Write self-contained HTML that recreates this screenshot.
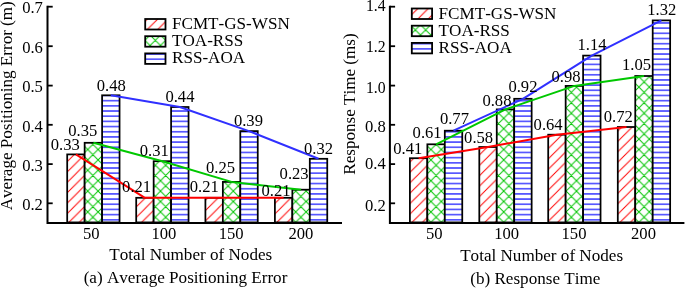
<!DOCTYPE html>
<html><head><meta charset="utf-8"><title>Charts</title>
<style>html,body{margin:0;padding:0;background:#fff}svg{display:block}text{font-family:"Liberation Serif", serif;fill:#000;font-kerning:none}</style>
</head><body>
<svg width="685" height="289" viewBox="0 0 685 289">
<defs>
<pattern id="pr" patternUnits="userSpaceOnUse" width="10.4" height="10.4">
<path d="M-1,11.4 L11.4,-1 M-1,1 L1,-1 M9.4,11.4 L11.4,9.4" stroke="#ff0000" stroke-width="1" fill="none"/>
</pattern>
<pattern id="pg" patternUnits="userSpaceOnUse" width="10.4" height="10.4" patternTransform="translate(4.5,3.9)">
<path d="M-1,11.4 L11.4,-1 M-1,1 L1,-1 M9.4,11.4 L11.4,9.4 M-1,-1 L11.4,11.4 M9.4,-1 L11.4,1 M-1,9.4 L1,11.4" stroke="#00c400" stroke-width="1" fill="none"/>
</pattern>
<pattern id="pb" patternUnits="userSpaceOnUse" width="10" height="5.18" patternTransform="translate(0,-0.35)">
<path d="M0,2.59 H10" stroke="#2020ff" stroke-width="1.3" fill="none"/>
</pattern>
</defs>
<rect width="685" height="289" fill="#fff"/>

<rect x="67.20" y="154.40" width="17.45" height="68.00" fill="#fff"/>
<rect x="67.20" y="154.40" width="17.45" height="68.00" fill="url(#pr)" stroke="#000" stroke-width="1.75"/>
<rect x="84.65" y="142.80" width="17.45" height="79.60" fill="#fff"/>
<rect x="84.65" y="142.80" width="17.45" height="79.60" fill="url(#pg)" stroke="#000" stroke-width="1.75"/>
<rect x="102.10" y="95.30" width="17.45" height="127.10" fill="#fff"/>
<rect x="102.10" y="95.30" width="17.45" height="127.10" fill="url(#pb)" stroke="#000" stroke-width="1.75"/>
<rect x="136.20" y="197.80" width="17.45" height="24.60" fill="#fff"/>
<rect x="136.20" y="197.80" width="17.45" height="24.60" fill="url(#pr)" stroke="#000" stroke-width="1.75"/>
<rect x="153.65" y="161.20" width="17.45" height="61.20" fill="#fff"/>
<rect x="153.65" y="161.20" width="17.45" height="61.20" fill="url(#pg)" stroke="#000" stroke-width="1.75"/>
<rect x="171.10" y="107.00" width="17.45" height="115.40" fill="#fff"/>
<rect x="171.10" y="107.00" width="17.45" height="115.40" fill="url(#pb)" stroke="#000" stroke-width="1.75"/>
<rect x="205.40" y="197.80" width="17.45" height="24.60" fill="#fff"/>
<rect x="205.40" y="197.80" width="17.45" height="24.60" fill="url(#pr)" stroke="#000" stroke-width="1.75"/>
<rect x="222.85" y="181.90" width="17.45" height="40.50" fill="#fff"/>
<rect x="222.85" y="181.90" width="17.45" height="40.50" fill="url(#pg)" stroke="#000" stroke-width="1.75"/>
<rect x="240.30" y="131.10" width="17.45" height="91.30" fill="#fff"/>
<rect x="240.30" y="131.10" width="17.45" height="91.30" fill="url(#pb)" stroke="#000" stroke-width="1.75"/>
<rect x="274.90" y="197.80" width="17.45" height="24.60" fill="#fff"/>
<rect x="274.90" y="197.80" width="17.45" height="24.60" fill="url(#pr)" stroke="#000" stroke-width="1.75"/>
<rect x="292.35" y="189.70" width="17.45" height="32.70" fill="#fff"/>
<rect x="292.35" y="189.70" width="17.45" height="32.70" fill="url(#pg)" stroke="#000" stroke-width="1.75"/>
<rect x="309.80" y="158.80" width="17.45" height="63.60" fill="#fff"/>
<rect x="309.80" y="158.80" width="17.45" height="63.60" fill="url(#pb)" stroke="#000" stroke-width="1.75"/>
<path d="M47.5,5.8 V223.0 H342.0" stroke="#000" stroke-width="2" fill="none" stroke-linejoin="miter"/>
<path d="M47.5,6.7 h5.2" stroke="#000" stroke-width="1.8"/>
<path d="M47.5,46.2 h5.2" stroke="#000" stroke-width="1.8"/>
<path d="M47.5,85.6 h5.2" stroke="#000" stroke-width="1.8"/>
<path d="M47.5,124.8 h5.2" stroke="#000" stroke-width="1.8"/>
<path d="M47.5,164.1 h5.2" stroke="#000" stroke-width="1.8"/>
<path d="M47.5,203.3 h5.2" stroke="#000" stroke-width="1.8"/>
<text transform="translate(42.9,13.2) scale(1.0,1)" font-size="16.6" text-anchor="end">0.7</text>
<text transform="translate(42.9,52.8) scale(1.0,1)" font-size="16.6" text-anchor="end">0.6</text>
<text transform="translate(42.9,92.2) scale(1.0,1)" font-size="16.6" text-anchor="end">0.5</text>
<text transform="translate(42.9,131.5) scale(1.0,1)" font-size="16.6" text-anchor="end">0.4</text>
<text transform="translate(42.9,170.8) scale(1.0,1)" font-size="16.6" text-anchor="end">0.3</text>
<text transform="translate(42.9,210.2) scale(1.0,1)" font-size="16.6" text-anchor="end">0.2</text>
<path d="M75.9,154.4 L144.9,197.8 L214.1,197.8 L283.6,197.8" stroke="#ff0000" stroke-width="2" fill="none" stroke-linejoin="round"/>
<path d="M93.4,142.8 L162.4,161.2 L231.6,181.9 L301.1,189.7" stroke="#00c800" stroke-width="2" fill="none" stroke-linejoin="round"/>
<path d="M110.8,95.3 L179.8,107.0 L249.0,131.1 L318.5,158.8" stroke="#3030ff" stroke-width="2" fill="none" stroke-linejoin="round"/>
<text transform="translate(65.2,150.3) scale(1.0,1)" font-size="16.6" text-anchor="middle">0.33</text>
<text transform="translate(82.7,135.6) scale(1.0,1)" font-size="16.6" text-anchor="middle">0.35</text>
<text transform="translate(111.3,90.6) scale(1.0,1)" font-size="16.6" text-anchor="middle">0.48</text>
<text transform="translate(136.6,191.8) scale(1.0,1)" font-size="16.6" text-anchor="middle">0.21</text>
<text transform="translate(154.2,156) scale(1.0,1)" font-size="16.6" text-anchor="middle">0.31</text>
<text transform="translate(179.9,101.5) scale(1.0,1)" font-size="16.6" text-anchor="middle">0.44</text>
<text transform="translate(204.3,191.5) scale(1.0,1)" font-size="16.6" text-anchor="middle">0.21</text>
<text transform="translate(220.5,173.1) scale(1.0,1)" font-size="16.6" text-anchor="middle">0.25</text>
<text transform="translate(248.4,126) scale(1.0,1)" font-size="16.6" text-anchor="middle">0.39</text>
<text transform="translate(276,195.6) scale(1.0,1)" font-size="16.6" text-anchor="middle">0.21</text>
<text transform="translate(294.1,179.4) scale(1.0,1)" font-size="16.6" text-anchor="middle">0.23</text>
<text transform="translate(318.5,153.6) scale(1.0,1)" font-size="16.6" text-anchor="middle">0.32</text>
<text transform="translate(91.2,238.8) scale(1.0,1)" font-size="16.6" text-anchor="middle">50</text>
<text transform="translate(163.9,238.8) scale(1.0,1)" font-size="16.6" text-anchor="middle">100</text>
<text transform="translate(231.1,238.8) scale(1.0,1)" font-size="16.6" text-anchor="middle">150</text>
<text transform="translate(300.9,238.8) scale(1.0,1)" font-size="16.6" text-anchor="middle">200</text>
<text transform="translate(190.75,259.6) scale(1.031,1)" font-size="16.6" text-anchor="middle">Total Number of Nodes</text>
<text transform="translate(185.5,283.0) scale(1.031,1)" font-size="16.6" text-anchor="middle">(a) Average Positioning Error</text>
<text transform="translate(12.3,105.75) rotate(-90) scale(1.029,1)" font-size="16.6" text-anchor="middle">Average Positioning Error (m)</text>
<rect x="145.2" y="19.0" width="20.3" height="10.5" fill="url(#pr)" stroke="#000" stroke-width="1.8"/>
<text transform="translate(172.0,29.0) scale(1.031,1)" font-size="16.6" text-anchor="start">FCMT-GS-WSN</text>
<rect x="145.2" y="36.2" width="20.3" height="10.5" fill="url(#pg)" stroke="#000" stroke-width="1.8"/>
<text transform="translate(172.0,46.2) scale(1.031,1)" font-size="16.6" text-anchor="start">TOA-RSS</text>
<rect x="145.2" y="53.4" width="20.3" height="10.5" fill="url(#pb)" stroke="#000" stroke-width="1.8"/>
<text transform="translate(172.0,63.4) scale(1.031,1)" font-size="16.6" text-anchor="start">RSS-AOA</text>
<rect x="409.90" y="158.20" width="17.45" height="64.20" fill="#fff"/>
<rect x="409.90" y="158.20" width="17.45" height="64.20" fill="url(#pr)" stroke="#000" stroke-width="1.75"/>
<rect x="427.35" y="144.30" width="17.45" height="78.10" fill="#fff"/>
<rect x="427.35" y="144.30" width="17.45" height="78.10" fill="url(#pg)" stroke="#000" stroke-width="1.75"/>
<rect x="444.80" y="130.70" width="17.45" height="91.70" fill="#fff"/>
<rect x="444.80" y="130.70" width="17.45" height="91.70" fill="url(#pb)" stroke="#000" stroke-width="1.75"/>
<rect x="479.30" y="147.00" width="17.45" height="75.40" fill="#fff"/>
<rect x="479.30" y="147.00" width="17.45" height="75.40" fill="url(#pr)" stroke="#000" stroke-width="1.75"/>
<rect x="496.75" y="109.40" width="17.45" height="113.00" fill="#fff"/>
<rect x="496.75" y="109.40" width="17.45" height="113.00" fill="url(#pg)" stroke="#000" stroke-width="1.75"/>
<rect x="514.20" y="98.80" width="17.45" height="123.60" fill="#fff"/>
<rect x="514.20" y="98.80" width="17.45" height="123.60" fill="url(#pb)" stroke="#000" stroke-width="1.75"/>
<rect x="548.20" y="134.70" width="17.45" height="87.70" fill="#fff"/>
<rect x="548.20" y="134.70" width="17.45" height="87.70" fill="url(#pr)" stroke="#000" stroke-width="1.75"/>
<rect x="565.65" y="85.90" width="17.45" height="136.50" fill="#fff"/>
<rect x="565.65" y="85.90" width="17.45" height="136.50" fill="url(#pg)" stroke="#000" stroke-width="1.75"/>
<rect x="583.10" y="55.60" width="17.45" height="166.80" fill="#fff"/>
<rect x="583.10" y="55.60" width="17.45" height="166.80" fill="url(#pb)" stroke="#000" stroke-width="1.75"/>
<rect x="617.80" y="127.00" width="17.45" height="95.40" fill="#fff"/>
<rect x="617.80" y="127.00" width="17.45" height="95.40" fill="url(#pr)" stroke="#000" stroke-width="1.75"/>
<rect x="635.25" y="76.00" width="17.45" height="146.40" fill="#fff"/>
<rect x="635.25" y="76.00" width="17.45" height="146.40" fill="url(#pg)" stroke="#000" stroke-width="1.75"/>
<rect x="652.70" y="20.40" width="17.45" height="202.00" fill="#fff"/>
<rect x="652.70" y="20.40" width="17.45" height="202.00" fill="url(#pb)" stroke="#000" stroke-width="1.75"/>
<path d="M389.9,5.8 V223.0 H684.4" stroke="#000" stroke-width="2" fill="none" stroke-linejoin="miter"/>
<path d="M389.9,6.7 h5.2" stroke="#000" stroke-width="1.8"/>
<path d="M389.9,46.2 h5.2" stroke="#000" stroke-width="1.8"/>
<path d="M389.9,85.6 h5.2" stroke="#000" stroke-width="1.8"/>
<path d="M389.9,124.8 h5.2" stroke="#000" stroke-width="1.8"/>
<path d="M389.9,164.1 h5.2" stroke="#000" stroke-width="1.8"/>
<path d="M389.9,203.3 h5.2" stroke="#000" stroke-width="1.8"/>
<text transform="translate(385.7,11.4) scale(0.95,1)" font-size="16.6" text-anchor="end">1.4</text>
<text transform="translate(385.7,52.4) scale(0.95,1)" font-size="16.6" text-anchor="end">1.2</text>
<text transform="translate(385.7,92.8) scale(0.95,1)" font-size="16.6" text-anchor="end">1.0</text>
<text transform="translate(385.7,131.9) scale(1.0,1)" font-size="16.6" text-anchor="end">0.8</text>
<text transform="translate(385.7,169.0) scale(1.0,1)" font-size="16.6" text-anchor="end">0.4</text>
<text transform="translate(385.7,210.8) scale(1.0,1)" font-size="16.6" text-anchor="end">0.2</text>
<path d="M418.6,158.2 L488.0,147.0 L556.9,134.7 L626.5,127.0" stroke="#ff0000" stroke-width="2" fill="none" stroke-linejoin="round"/>
<path d="M436.1,144.3 L505.5,109.4 L574.4,85.9 L644.0,76.0" stroke="#00c800" stroke-width="2" fill="none" stroke-linejoin="round"/>
<path d="M453.5,130.7 L522.9,98.8 L591.8,55.6 L661.4,20.4" stroke="#3030ff" stroke-width="2" fill="none" stroke-linejoin="round"/>
<text transform="translate(407.7,153.5) scale(1.0,1)" font-size="16.6" text-anchor="middle">0.41</text>
<text transform="translate(427.1,138.4) scale(1.0,1)" font-size="16.6" text-anchor="middle">0.61</text>
<text transform="translate(454.4,124.1) scale(1.0,1)" font-size="16.6" text-anchor="middle">0.77</text>
<text transform="translate(478.6,143.3) scale(1.0,1)" font-size="16.6" text-anchor="middle">0.58</text>
<text transform="translate(496.9,106) scale(1.0,1)" font-size="16.6" text-anchor="middle">0.88</text>
<text transform="translate(522.9,92.3) scale(1.0,1)" font-size="16.6" text-anchor="middle">0.92</text>
<text transform="translate(548.1,129.6) scale(1.0,1)" font-size="16.6" text-anchor="middle">0.64</text>
<text transform="translate(566,81.6) scale(1.0,1)" font-size="16.6" text-anchor="middle">0.98</text>
<text transform="translate(592,50.1) scale(1.0,1)" font-size="16.6" text-anchor="middle">1.14</text>
<text transform="translate(618.3,122.1) scale(1.0,1)" font-size="16.6" text-anchor="middle">0.72</text>
<text transform="translate(636.5,70.4) scale(1.0,1)" font-size="16.6" text-anchor="middle">1.05</text>
<text transform="translate(661.8,15.3) scale(1.0,1)" font-size="16.6" text-anchor="middle">1.32</text>
<text transform="translate(434.2,238.8) scale(1.0,1)" font-size="16.6" text-anchor="middle">50</text>
<text transform="translate(506.6,238.8) scale(1.0,1)" font-size="16.6" text-anchor="middle">100</text>
<text transform="translate(574,238.8) scale(1.0,1)" font-size="16.6" text-anchor="middle">150</text>
<text transform="translate(643.5,238.8) scale(1.0,1)" font-size="16.6" text-anchor="middle">200</text>
<text transform="translate(541.6,261.0) scale(1.031,1)" font-size="16.6" text-anchor="middle">Total Number of Nodes</text>
<text transform="translate(535.3,284.0) scale(1.031,1)" font-size="16.6" text-anchor="middle">(b) Response Time</text>
<text transform="translate(354.7,104.0) rotate(-90) scale(1.029,1)" font-size="16.6" text-anchor="middle">Response Time (ms)</text>
<rect x="411.8" y="8.5" width="20.3" height="10.5" fill="url(#pr)" stroke="#000" stroke-width="1.8"/>
<text transform="translate(438.6,18.5) scale(1.031,1)" font-size="16.6" text-anchor="start">FCMT-GS-WSN</text>
<rect x="411.8" y="25.7" width="20.3" height="10.5" fill="url(#pg)" stroke="#000" stroke-width="1.8"/>
<text transform="translate(438.6,35.7) scale(1.031,1)" font-size="16.6" text-anchor="start">TOA-RSS</text>
<rect x="411.8" y="42.9" width="20.3" height="10.5" fill="url(#pb)" stroke="#000" stroke-width="1.8"/>
<text transform="translate(438.6,52.9) scale(1.031,1)" font-size="16.6" text-anchor="start">RSS-AOA</text>
</svg></body></html>
